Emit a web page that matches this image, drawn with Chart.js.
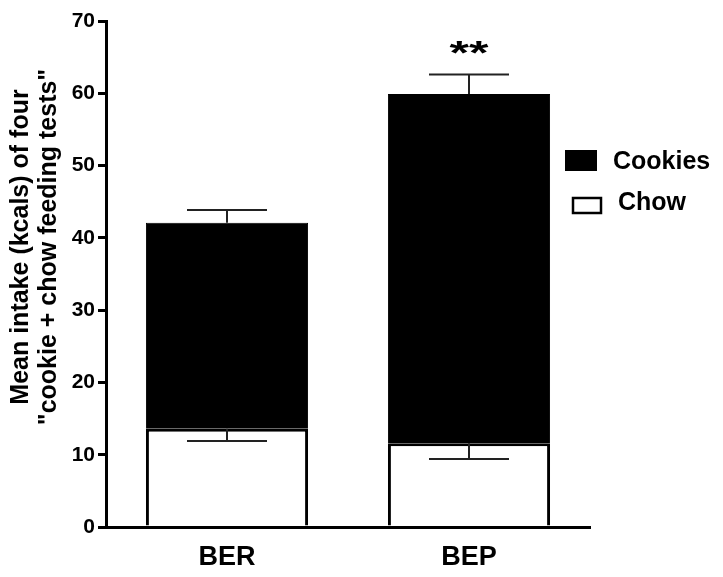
<!DOCTYPE html>
<html>
<head>
<meta charset="utf-8">
<script src="https://cdn.jsdelivr.net/npm/chart.js@4.4.1/dist/chart.umd.min.js"></script>
<style>
  html, body { margin: 0; padding: 0; background: #fff; }
  #wrap { width: 723px; height: 577px; position: relative; }
</style>
</head>
<body>
<div id="wrap"><canvas id="c" width="723" height="577"></canvas></div>
<script>
// ---- data ----
const categories = ['BER', 'BEP'];
const chowMeans = [13.6, 11.6];      // kcals, lower (white) segment
const cookieMeans = [28.5, 48.3];    // kcals, upper (black) segment
const chowSem = [1.7, 2.2];          // error shown downward from chow mean
const totalSem = [1.75, 2.7];        // error shown upward from total
const significance = ['', '**'];
const yTicks = [0, 10, 20, 30, 40, 50, 60, 70];
const yTitleLines = ['Mean intake (kcals) of four', '"cookie + chow feeding tests"'];
const legendItems = ['Cookies', 'Chow'];

const FONT = '"Liberation Sans", Arial, Helvetica, sans-serif';

const errorBars = {
  id: 'errorBars',
  afterDatasetsDraw(chart) {
    const ctx = chart.ctx;
    const x = chart.scales.x, y = chart.scales.y;
    ctx.save();
    ctx.strokeStyle = '#222';
    ctx.lineWidth = 2;
    categories.forEach((c, i) => {
      const cx = x.getPixelForValue(i);
      const half = 40;
      const total = chowMeans[i] + cookieMeans[i];
      // upward error on total
      const y0 = y.getPixelForValue(total), y1 = y.getPixelForValue(total + totalSem[i]);
      ctx.beginPath();
      ctx.moveTo(cx, y0); ctx.lineTo(cx, y1);
      ctx.moveTo(cx - half, y1); ctx.lineTo(cx + half, y1);
      ctx.stroke();
      // downward error on chow
      const y2 = y.getPixelForValue(chowMeans[i]), y3 = y.getPixelForValue(chowMeans[i] - chowSem[i]);
      ctx.beginPath();
      ctx.moveTo(cx, y2); ctx.lineTo(cx, y3);
      ctx.moveTo(cx - half, y3); ctx.lineTo(cx + half, y3);
      ctx.stroke();
      // significance marks
      if (significance[i]) {
        ctx.save();
        ctx.fillStyle = '#000';
        ctx.font = 'bold 40px ' + FONT;
        ctx.textAlign = 'center';
        ctx.textBaseline = 'alphabetic';
        ctx.translate(cx, y1 - 10);
        ctx.scale(1.25, 0.85);
        ctx.fillText(significance[i], 0, 0);
        ctx.restore();
      }
    });
    ctx.restore();
  }
};

const extras = {
  id: 'extras',
  afterDraw(chart) {
    const ctx = chart.ctx;
    ctx.save();
    // y-axis title (two lines, rotated)
    ctx.fillStyle = '#000';
    ctx.font = 'bold 25px ' + FONT;
    ctx.textAlign = 'center';
    ctx.textBaseline = 'middle';
    const lineX = [21, 49];
    yTitleLines.forEach((t, k) => {
      ctx.save();
      ctx.translate(lineX[k], 247);
      ctx.rotate(-Math.PI / 2);
      ctx.fillText(t, 0, 0);
      ctx.restore();
    });
    // legend
    ctx.font = 'bold 25px ' + FONT;
    ctx.textAlign = 'left';
    ctx.textBaseline = 'middle';
    // Cookies
    ctx.fillStyle = '#000';
    ctx.fillRect(565, 150, 32, 21);
    ctx.fillText(legendItems[0], 613, 162);
    // Chow
    ctx.lineWidth = 2.5;
    ctx.strokeStyle = '#000';
    ctx.fillStyle = '#fff';
    ctx.fillRect(573, 198, 28, 15);
    ctx.strokeRect(573, 198, 28, 15);
    ctx.fillStyle = '#000';
    ctx.fillText(legendItems[1], 618, 203);
    ctx.restore();
  }
};

new Chart(document.getElementById('c'), {
  type: 'bar',
  data: {
    labels: categories,
    datasets: [
      {
        label: legendItems[1],
        data: chowMeans,
        backgroundColor: '#fff',
        borderColor: '#000',
        borderWidth: 3,
        borderSkipped: 'start'
      },
      {
        label: legendItems[0],
        data: cookieMeans,
        backgroundColor: '#000',
        borderColor: '#000',
        borderWidth: 1
      }
    ]
  },
  options: {
    responsive: false,
    animation: false,
    devicePixelRatio: 1,
    layout: { padding: { top: 21, right: 133, left: 0, bottom: 0 } },
    datasets: { bar: { barPercentage: 0.67, categoryPercentage: 1.0 } },
    plugins: { legend: { display: false }, tooltip: { enabled: false } },
    scales: {
      x: {
        stacked: true,
        grid: { display: false, drawTicks: false },
        border: { display: true, color: '#000', width: 3 },
        ticks: { color: '#000', font: { family: FONT, size: 27, weight: 'bold' }, padding: 14 },
        afterFit(s) { s.height = 50; }
      },
      y: {
        stacked: true,
        min: 0, max: 70,
        afterBuildTicks(s) { s.ticks = yTicks.map(v => ({ value: v })); },
        grid: { display: true, drawOnChartArea: false, drawTicks: true, tickLength: 8, color: '#000', lineWidth: 3 },
        border: { display: true, color: '#000', width: 3 },
        ticks: { color: '#000', font: { family: FONT, size: 21, weight: 'bold' }, padding: 3 },
        afterFit(s) { s.width = 106; }
      }
    }
  },
  plugins: [errorBars, extras]
});
</script>
</body>
</html>
